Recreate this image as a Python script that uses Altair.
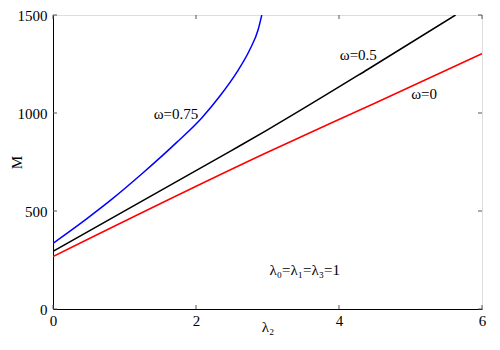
import altair as alt
import pandas as pd

# omega = 0 (red)
x_w0 = [0.0, 3.0, 4.5, 6.0]
y_w0 = [268, 800, 1050, 1303]
# omega = 0.5 (black)
x_w05 = [0.0, 2.47, 3.0, 4.4, 5.63]
y_w05 = [294, 803, 914, 1222, 1500]
# omega = 0.75 (blue)
x_w075 = [0.0, 0.47, 0.82, 1.26, 1.73, 2.08, 2.34, 2.57, 2.755, 2.87, 2.92]
y_w075 = [335, 460, 559, 695, 850, 975, 1089, 1207, 1325, 1426, 1500]

series_names = ["ω=0", "ω=0.5", "ω=0.75"]
series_colors = ["#ff0000", "#000000", "#0000ff"]

x_ticks = [0, 2, 4, 6]
y_ticks = [0, 500, 1000, 1500]

ann_text = ["ω=0.75", "ω=0.5", "ω=0", "λ₀=λ₁=λ₃=1"]
ann_x = [1.72, 4.27, 5.19, 3.52]
ann_y = [995, 1298, 1096, 197]

rows = []
for name, xs, ys in zip(series_names, [x_w0, x_w05, x_w075], [y_w0, y_w05, y_w075]):
    for i, (a, b) in enumerate(zip(xs, ys)):
        rows.append({"series": name, "x": a, "y": b, "order": i})
df = pd.DataFrame(rows)
ann = pd.DataFrame({"t": ann_text, "x": ann_x, "y": ann_y})
xt = pd.DataFrame({"v": x_ticks})
yt = pd.DataFrame({"v": y_ticks})

W, H = 429, 294
FONT = "'Liberation Serif', 'DejaVu Serif', serif"

xscale = alt.Scale(domain=[0, 6], nice=False, zero=False)
yscale = alt.Scale(domain=[0, 1500], nice=False, zero=False)

lines = alt.Chart(df).mark_line(strokeWidth=1.5, interpolate="monotone", clip=True).encode(
    x=alt.X("x:Q", scale=xscale, axis=alt.Axis(
        values=x_ticks, format="d", title="λ₂", grid=False, ticks=False, tickSize=0,
        labelPadding=4, labelFlush=False, labelFont=FONT, labelFontSize=15,
        labelColor="black", domainColor="black", titleFont=FONT, titleFontSize=15,
        titleFontWeight="normal", titleColor="black", titleY=10, titleBaseline="top")),
    y=alt.Y("y:Q", scale=yscale, axis=alt.Axis(
        values=y_ticks, format="d", title="M", grid=False, ticks=False, tickSize=0,
        labelPadding=6, labelFlush=False, labelFont=FONT, labelFontSize=15,
        labelColor="black", domainColor="black", titleFont=FONT, titleFontSize=15,
        titleFontWeight="normal", titleColor="black", titleX=-37, titleBaseline="middle")),
    color=alt.Color("series:N", scale=alt.Scale(domain=series_names, range=series_colors), legend=None),
    order="order:Q",
)

texts = alt.Chart(ann).mark_text(font=FONT, fontSize=15, color="black").encode(
    x=alt.X("x:Q", scale=xscale), y=alt.Y("y:Q", scale=yscale), text="t:N")

tick_col = "#555555"
yl = alt.Chart(yt).mark_rule(color=tick_col).encode(
    y=alt.Y("v:Q", scale=yscale), x=alt.value(0), x2=alt.value(4))
yr = alt.Chart(yt).mark_rule(color=tick_col).encode(
    y=alt.Y("v:Q", scale=yscale), x=alt.value(W - 4), x2=alt.value(W))
xb = alt.Chart(xt).mark_rule(color=tick_col).encode(
    x=alt.X("v:Q", scale=xscale), y=alt.value(H - 4), y2=alt.value(H))
xtp = alt.Chart(xt).mark_rule(color=tick_col).encode(
    x=alt.X("v:Q", scale=xscale), y=alt.value(0), y2=alt.value(4))

chart = alt.layer(lines, texts, yl, yr, xb, xtp).properties(
    width=W, height=H,
    autosize=alt.AutoSizeParams(type="none"),
    padding={"left": 45, "top": 7, "right": 10, "bottom": 33},
).configure_view(stroke="black", strokeWidth=1).configure(background="white", font=FONT)

chart.save("out.html", embed_options={"renderer": "svg", "actions": False})
